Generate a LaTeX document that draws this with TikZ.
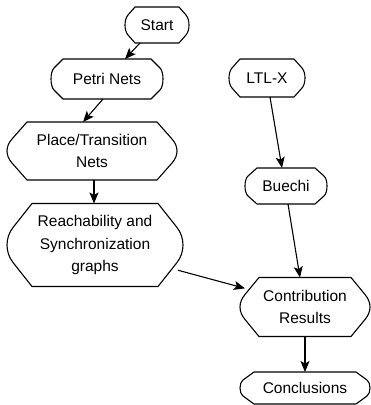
\documentclass[tikz,border=0pt]{standalone}
\usepackage{fontspec}
\setmainfont{Liberation Sans}
\usetikzlibrary{calc,arrows.meta}

\tikzset{
  x=1pt, y=1pt,
  box/.style={inner sep=0pt, outer sep=0pt, align=center,
    font=\fontsize{15.5}{22.5}\selectfont},
  shapeline/.style={line width=1.1pt, line join=round},
  flow/.style={line width=1.1pt, -{Stealth[length=11pt,width=9pt,inset=2.5pt]}},
}

% Terminal outline around a node: flat top and bottom, slanted corners,
% rounded sides. Args: node, corner inset, side inset, corner drop.
\newcommand\termshape[4]{%
  \pgfmathsetmacro\tsex{#3/3}%
  \pgfmathsetmacro\tsey{#4+(4*#3/3)*#4/(#2-#3)}%
  \draw[shapeline]
    ($(#1.north west)+(#2,0)$) -- ($(#1.north east)+(-#2,0)$)
    -- ($(#1.north east)+(-#3,-#4)$)
    .. controls ($(#1.north east)+(\tsex,-\tsey)$) and ($(#1.south east)+(\tsex,\tsey)$)
    .. ($(#1.south east)+(-#3,#4)$)
    -- ($(#1.south east)+(-#2,0)$) -- ($(#1.south west)+(#2,0)$)
    -- ($(#1.south west)+(#3,#4)$)
    .. controls ($(#1.south west)+(-\tsex,\tsey)$) and ($(#1.north west)+(-\tsex,-\tsey)$)
    .. ($(#1.north west)+(#3,-#4)$) -- cycle;
}

\begin{document}
\begin{tikzpicture}
\useasboundingbox (0,0) rectangle (371,-405);

\node[box, minimum width=64pt,  minimum height=36pt] (start)   at (157,-25)  {Start};
\node[box, minimum width=112pt, minimum height=40pt] (petri)   at (107,-79)  {Petri Nets};
\node[box, minimum width=76pt,  minimum height=38pt] (ltl)     at (267,-78)  {LTL-X};
\node[box, minimum width=170pt, minimum height=58pt] (pt)      at (92,-151)  {Place/Transition\\Nets};
\node[box, minimum width=82pt,  minimum height=36pt] (buechi)  at (286,-186) {Buechi};
\node[box, minimum width=176pt, minimum height=83pt] (reach)   at (95,-245)  {Reachability and\\Synchronization\\graphs};
\node[box, minimum width=130pt, minimum height=59pt] (contrib) at (305,-307) {Contribution\\Results};
\node[box, minimum width=130pt, minimum height=32pt] (concl)   at (305,-388) {Conclusions};

\termshape{start}{10}{3}{8}
\termshape{petri}{12}{3}{9}
\termshape{ltl}{11}{3}{9}
\termshape{pt}{20}{5}{17}
\termshape{buechi}{12}{3}{8}
\termshape{reach}{25}{6}{24}
\termshape{contrib}{19}{5}{17}
\termshape{concl}{14}{3}{8}

\draw[flow] ([xshift=-17pt]start.south) -- ([xshift=18pt]petri.north);
\draw[flow] ([xshift=-4pt]petri.south) -- ([xshift=-9pt]pt.north);
\draw[flow] ([xshift=2pt]pt.south) -- ([xshift=-1pt]reach.north);
\draw[flow] ([xshift=3pt]ltl.south) -- ([xshift=-4pt]buechi.north);
\draw[flow] ([xshift=2pt]buechi.south) -- ([xshift=-5pt]contrib.north);
\draw[flow] ([xshift=-5pt]reach.-16) -- ([xshift=5pt]contrib.164);
\draw[flow] (contrib.south) -- (concl.north);
\end{tikzpicture}
\end{document}
